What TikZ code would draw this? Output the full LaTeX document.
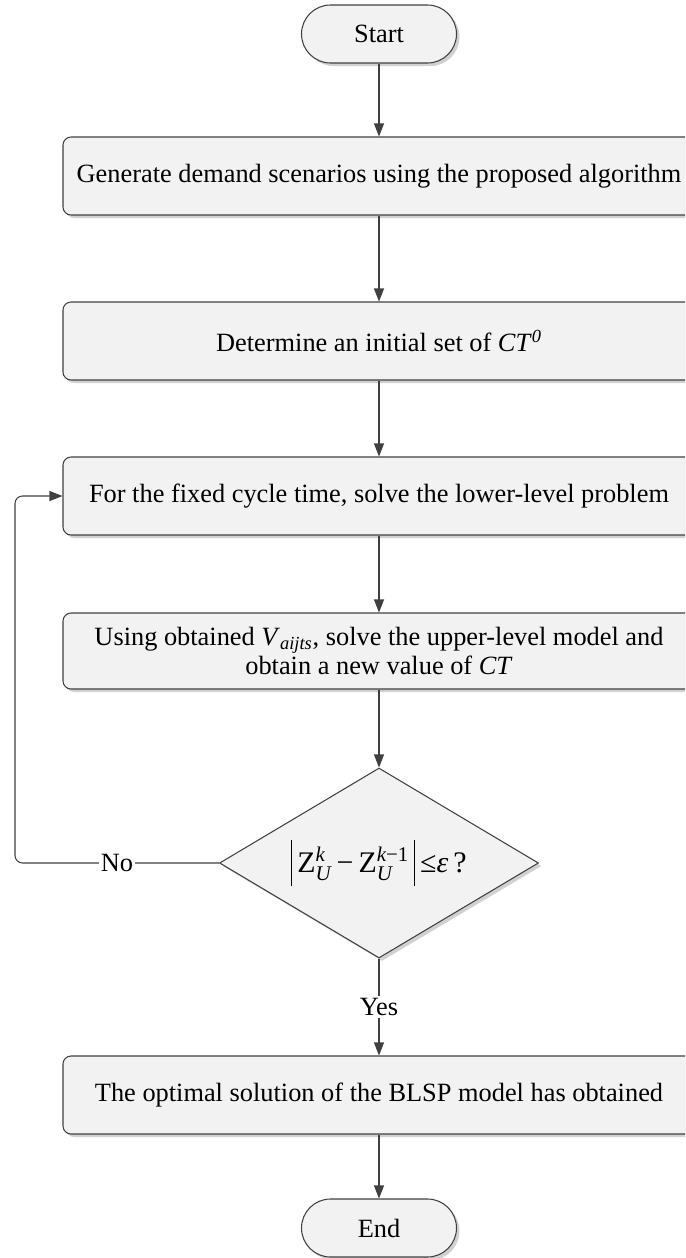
\documentclass[tikz,border=0pt]{standalone}
\usepackage{fontspec}
\setmainfont{Liberation Serif}
\usepackage{amsmath}
\usetikzlibrary{positioning, calc, arrows.meta, shapes.geometric, shadows}
\definecolor{boxfill}{HTML}{F2F2F2}
\definecolor{linegray}{HTML}{404040}
\newcommand{\absbar}{\rule[-0.45em]{0.55pt}{1.55em}}
\tikzset{fcshadow/.style={drop shadow={shadow xshift=0.06cm, shadow yshift=-0.06cm, fill=black!30, opacity=0.6}}}
\tikzset{procbox/.style={draw=linegray, fill=boxfill, rounded corners=0.16cm, line width=0.6pt, minimum width=12.64cm, minimum height=1.56cm, align=center, fcshadow}}
\tikzset{termbox/.style={procbox, rounded corners=0.58cm, minimum width=3.1cm, minimum height=1.16cm}}
\tikzset{decbox/.style={diamond, aspect=1.68, draw=linegray, fill=boxfill, line width=0.6pt, minimum width=6.38cm, minimum height=3.8cm, inner sep=0pt, fcshadow, font=\fontsize{17}{20}\selectfont}}
\tikzset{arr/.style={draw=linegray, line width=0.6pt, -{Triangle[length=0.26cm, width=0.2cm]}}}
\tikzset{lbl/.style={fill=white, inner sep=1pt}}

\begin{document}
\begin{tikzpicture}[font=\fontsize{15}{16.5}\selectfont]
    \clip (0,0) rectangle (13.7,-25.16);
    \node[termbox] (start) at (7.58,-0.68) {Start};
    \node[procbox] (gen) at (7.58,-3.52) {Generate demand scenarios using the proposed algorithm};
    \node[procbox] (init) at (7.58,-6.82) {Determine an initial set of \textit{CT}\textsuperscript{\textit{0}}};
    \node[procbox] (lower) at (7.58,-9.92) {For the fixed cycle time, solve the lower-level problem};
    \node[procbox, minimum height=1.52cm] (upper) at (7.58,-13.02)
        {Using obtained \textit{V}\textsubscript{\textit{aijts}}, solve the upper-level model and\\ obtain a new value of \textit{CT}};
    \node[decbox] (check) at (7.58,-17.26)
        {\absbar\,$\text{Z}^{\textit{k}}_{\textit{U}}\,\text{−}\,\text{Z}^{\textit{k}\text{−1}}_{\textit{U}}$\,\absbar\,≤\textit{ε}\,?};
    \node[procbox] (opt) at (7.58,-21.9) {The optimal solution of the BLSP model has obtained};
    \node[termbox] (end) at (7.58,-24.56) {End};
    \coordinate (loop) at (0.3,-17.26);

    \draw[arr] (start) -- (gen);
    \draw[arr] (gen) -- (init);
    \draw[arr] (init) -- (lower);
    \draw[arr] (lower) -- (upper);
    \draw[arr] (upper) -- (check);
    \draw[arr] (check) -- node[lbl] {Yes} (opt);
    \draw[arr] (opt) -- (end);
    % back to the lower-level step
    \draw[arr, rounded corners=0.15cm] (check.west) -- node[lbl] {No} (loop) |- (lower.west);
\end{tikzpicture}
\end{document}
